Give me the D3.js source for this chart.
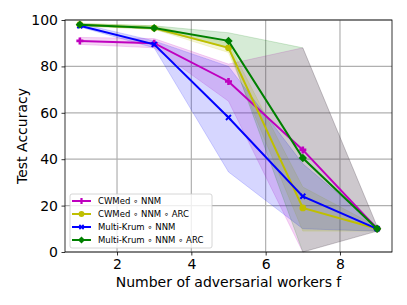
<!DOCTYPE html>
<html>
<head>
<meta charset="utf-8">
<script src="https://cdn.jsdelivr.net/npm/d3@7"></script>
<style>
  body { margin: 0; background: #fff; }
  text { font-family: "DejaVu Sans", sans-serif; }
</style>
</head>
<body>
<div id="chart"></div>
<script>
var fValues = [1, 3, 5, 7, 9];
var seriesNames = ["CWMed \u2218 NNM", "CWMed \u2218 NNM \u2218 ARC", "Multi-Krum \u2218 NNM", "Multi-Krum \u2218 NNM \u2218 ARC"];
var cwmedMean = [91, 90, 73.5, 44, 10];
var cwmedLow = [89.5, 88, 65, 0, 9];
var cwmedHigh = [92.5, 92, 81, 88, 11];
var cwmedArcMean = [98, 96.5, 88, 19, 10];
var cwmedArcLow = [97.5, 96, 86, 9, 9];
var cwmedArcHigh = [98.5, 97.5, 90, 28, 11];
var krumMean = [97.5, 89.5, 58, 24, 10];
var krumLow = [97, 88, 34.5, 10, 9];
var krumHigh = [98.5, 91, 80, 38, 11];
var krumArcMean = [98, 96.5, 91, 40.5, 10];
var krumArcLow = [97.5, 96, 88, 0, 9];
var krumArcHigh = [98.5, 97.5, 94.5, 88, 11];
var xTicks = [2, 4, 6, 8];
var yTicks = [0, 20, 40, 60, 80, 100];

var m = {top: 20, right: 15, bottom: 53, left: 65}
    , w = 407 - m.left - m.right
    , h = 305 - m.top - m.bottom;

var series = [
    {name: seriesNames[0], color: "#bf00bf", mean: cwmedMean, low: cwmedLow, high: cwmedHigh, marker: "plus"},
    {name: seriesNames[1], color: "#bfbf00", mean: cwmedArcMean, low: cwmedArcLow, high: cwmedArcHigh, marker: "circle"},
    {name: seriesNames[2], color: "#0000ff", mean: krumMean, low: krumLow, high: krumHigh, marker: "x"},
    {name: seriesNames[3], color: "#008000", mean: krumArcMean, low: krumArcLow, high: krumArcHigh, marker: "diamond"}
];

var svg = d3.select("#chart").append("svg")
    .attr("width", 407)
    .attr("height", 305)
    .append("g")
    .attr("transform", "translate(" + m.left + "," + m.top + ")");

var x = d3.scaleLinear().domain([0.6, 9.4]).range([0, w]);
var y = d3.scaleLinear().domain([0, 100]).range([h, 0]);

// grid
svg.append("g").selectAll("line").data(xTicks).enter().append("line")
    .attr("x1", function(d) { return x(d); }).attr("x2", function(d) { return x(d); })
    .attr("y1", 0).attr("y2", h)
    .attr("stroke", "#b0b0b0").attr("stroke-width", 1.2);
svg.append("g").selectAll("line").data(yTicks).enter().append("line")
    .attr("y1", function(d) { return y(d); }).attr("y2", function(d) { return y(d); })
    .attr("x1", 0).attr("x2", w)
    .attr("stroke", "#b0b0b0").attr("stroke-width", 1.2);

// bands
var area = d3.area()
    .x(function(d) { return x(d.f); })
    .y0(function(d) { return y(d.lo); })
    .y1(function(d) { return y(d.hi); });

series.forEach(function(s) {
    var pts = fValues.map(function(f, i) { return {f: f, lo: s.low[i], hi: s.high[i]}; });
    svg.append("path")
        .datum(pts)
        .attr("d", area)
        .attr("fill", s.color)
        .attr("fill-opacity", 0.16)
        .attr("stroke", s.color)
        .attr("stroke-opacity", 0.16)
        .attr("stroke-width", 1);
});

function markerPath(type) {
    if (type == "plus") return "M-1.3,-3.5H1.3V-1.3H3.5V1.3H1.3V3.5H-1.3V1.3H-3.5V-1.3H-1.3Z";
    if (type == "x") return "M-3.2,-1.8L-1.8,-3.2L0,-1.4L1.8,-3.2L3.2,-1.8L1.4,0L3.2,1.8L1.8,3.2L0,1.4L-1.8,3.2L-3.2,1.8L-1.4,0Z";
    if (type == "diamond") return "M0,-4.2L4.2,0L0,4.2L-4.2,0Z";
    return d3.symbol(d3.symbolCircle, 36)();
}

var line = d3.line()
    .x(function(d, i) { return x(fValues[i]); })
    .y(function(d) { return y(d); });

series.forEach(function(s) {
    svg.append("path")
        .datum(s.mean)
        .attr("d", line)
        .attr("fill", "none")
        .attr("stroke", s.color)
        .attr("stroke-width", 2);
    svg.append("g").selectAll("path").data(s.mean).enter().append("path")
        .attr("transform", function(d, i) { return "translate(" + x(fValues[i]) + "," + y(d) + ")"; })
        .attr("d", markerPath(s.marker))
        .attr("fill", s.color);
});

// axes
var xAxis = d3.axisBottom(x).tickValues(xTicks).tickSize(3.5).tickPadding(3.5);
var yAxis = d3.axisLeft(y).tickValues(yTicks).tickSize(3.5).tickPadding(3.5);

var gx = svg.append("g").attr("transform", "translate(0," + h + ")").call(xAxis);
var gy = svg.append("g").call(yAxis);
[gx, gy].forEach(function(g) {
    g.select(".domain").remove();
    g.selectAll("text").style("font-size", "14px").attr("fill", "#000");
    g.selectAll("line").attr("stroke", "#000").attr("stroke-width", 0.8);
});

svg.append("rect")
    .attr("width", w).attr("height", h)
    .attr("fill", "none").attr("stroke", "#000").attr("stroke-width", 0.8);

// labels
svg.append("text")
    .attr("x", w / 2).attr("y", h + 35)
    .attr("text-anchor", "middle")
    .style("font-size", "14px")
    .text("Number of adversarial workers f");

svg.append("text")
    .attr("transform", "rotate(-90)")
    .attr("x", -h / 2).attr("y", -38)
    .attr("text-anchor", "middle")
    .style("font-size", "14px")
    .text("Test Accuracy");

// legend
var lg = svg.append("g").attr("transform", "translate(5," + (h - 58) + ")");
lg.append("rect")
    .attr("width", 142).attr("height", 54).attr("rx", 2)
    .attr("fill", "#fff").attr("fill-opacity", 0.8)
    .attr("stroke", "#ccc").attr("stroke-width", 0.8);
var item = lg.selectAll(".item").data(series).enter().append("g")
    .attr("transform", function(d, i) { return "translate(0," + (7 + i * 13) + ")"; });
item.append("line")
    .attr("x1", 2).attr("x2", 21)
    .attr("stroke", function(d) { return d.color; }).attr("stroke-width", 2);
item.append("path")
    .attr("transform", "translate(11.5,0) scale(0.85)")
    .attr("d", function(d) { return markerPath(d.marker); })
    .attr("fill", function(d) { return d.color; });
item.append("text")
    .attr("x", 28).attr("dy", "0.35em")
    .style("font-size", "8.5px")
    .text(function(d) { return d.name; });
</script>
</body>
</html>
